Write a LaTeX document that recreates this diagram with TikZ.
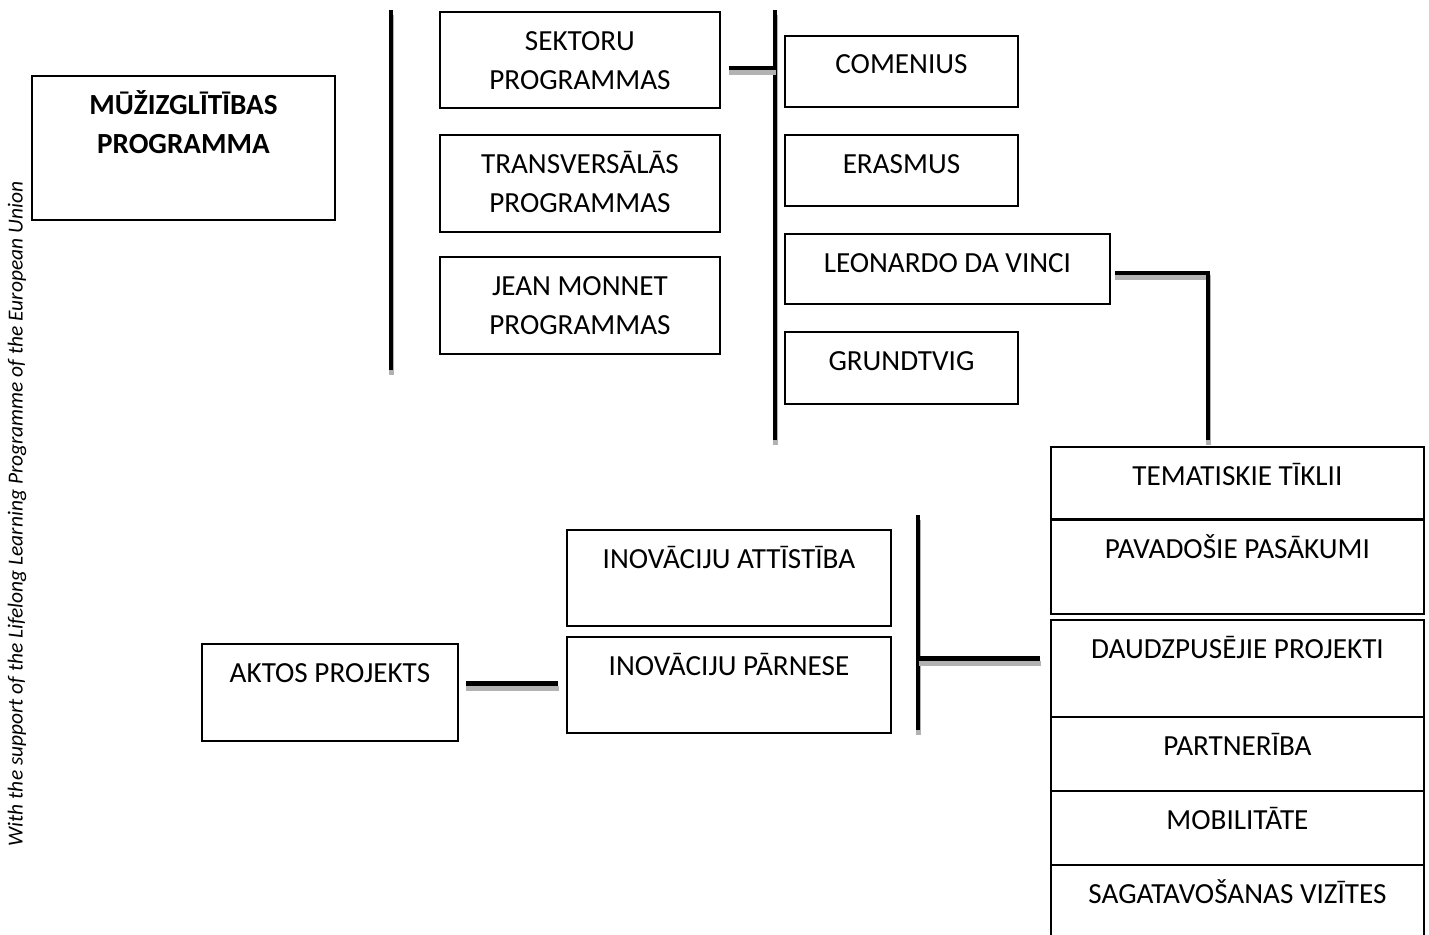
\documentclass[tikz,border=0pt]{standalone}
\usepackage{fontspec}
\setmainfont{Carlito}
\usetikzlibrary{positioning}
\begin{document}
\begin{tikzpicture}[x=0.02cm, y=-0.02cm,
    box/.style ={draw, line width=1.1pt, anchor=north west, inner sep=0pt},
    caption/.style ={anchor=base, align=center, inner sep=0pt, font=\fontsize{16.6}{22.7}\selectfont},
    bar/.style ={line width=2.8pt, preaction={draw=black!30, line width=2.8pt, transform canvas={shift={(0.3pt,-2.6pt)}}}}]
   \clip (0,0) rectangle (1429,934);
   \node[rotate=90, font=\fontsize{12.2}{14}\selectfont\itshape] (note) at (17,514) {With the support of the Lifelong Learning Programme of the European Union};
   \node[box, minimum width=6.06cm, minimum height=2.88cm] (muz) at (31,75) {};
   \node[caption, font=\fontsize{16.6}{22.7}\selectfont\bfseries] (muzT) at ([yshift=-1.58cm]muz.north) {MŪŽIZGLĪTĪBAS\\PROGRAMMA};
   \node[box, minimum width=5.6cm, minimum height=1.92cm] (sek) at (439,11) {};
   \node[box, minimum width=5.6cm, minimum height=1.94cm] (tra) at (439,134) {};
   \node[box, minimum width=5.6cm, minimum height=1.94cm] (jea) at (439,256) {};
   \node[caption] (sekT) at ([yshift=-1.58cm]sek.north) {SEKTORU\\PROGRAMMAS};
   \node[caption] (traT) at ([yshift=-1.58cm]tra.north) {TRANSVERSĀLĀS\\PROGRAMMAS};
   \node[caption] (jeaT) at ([yshift=-1.58cm]jea.north) {JEAN MONNET\\PROGRAMMAS};
   \node[box, minimum width=4.66cm, minimum height=1.42cm] (com) at (784,35) {};
   \node[box, minimum width=4.66cm, minimum height=1.42cm] (era) at (784,134) {};
   \node[box, minimum width=6.5cm, minimum height=1.4cm] (leo) at (784,233) {};
   \node[box, minimum width=4.66cm, minimum height=1.44cm] (gru) at (784,331) {};
   \node[caption] (comT) at ([yshift=-0.78cm]com.north) {COMENIUS};
   \node[caption] (eraT) at ([yshift=-0.78cm]era.north) {ERASMUS};
   \node[caption] (leoT) at ([yshift=-0.78cm]leo.north) {LEONARDO DA VINCI};
   \node[caption] (gruT) at ([yshift=-0.78cm]gru.north) {GRUNDTVIG};
   \node[box, minimum width=7.46cm, minimum height=1.44cm] (tem) at (1050,446) {};
   \node[box, minimum width=7.46cm, minimum height=1.88cm] (pav) at (1050,519) {};
   \node[box, minimum width=7.46cm, minimum height=1.94cm] (dau) at (1050,619) {};
   \node[box, minimum width=7.46cm, minimum height=1.48cm] (par) at (1050,716) {};
   \node[box, minimum width=7.46cm, minimum height=1.48cm] (mob) at (1050,790) {};
   \node[box, minimum width=7.46cm, minimum height=1.8cm] (sag) at (1050,864) {};
   \node[caption] (temT) at ([yshift=-0.78cm]tem.north) {TEMATISKIE TĪKLII};
   \node[caption] (pavT) at ([yshift=-0.78cm]pav.north) {PAVADOŠIE PASĀKUMI};
   \node[caption] (dauT) at ([yshift=-0.78cm]dau.north) {DAUDZPUSĒJIE PROJEKTI};
   \node[caption] (parT) at ([yshift=-0.78cm]par.north) {PARTNERĪBA};
   \node[caption] (mobT) at ([yshift=-0.78cm]mob.north) {MOBILITĀTE};
   \node[caption] (sagT) at ([yshift=-0.78cm]sag.north) {SAGATAVOŠANAS VIZĪTES};
   \node[box, minimum width=6.48cm, minimum height=1.92cm] (inA) at (566,529) {};
   \node[box, minimum width=6.48cm, minimum height=1.92cm] (inP) at (566,636) {};
   \node[box, minimum width=5.12cm, minimum height=1.94cm] (akt) at (201,643) {};
   \node[caption] (inAT) at ([yshift=-0.78cm]inA.north) {INOVĀCIJU ATTĪSTĪBA};
   \node[caption] (inPT) at ([yshift=-0.78cm]inP.north) {INOVĀCIJU PĀRNESE};
   \node[caption] (aktT) at ([yshift=-0.78cm]akt.north) {AKTOS PROJEKTS};
   \coordinate (b1t) at (391,10);
   \coordinate (b1b) at (391,370);
   \coordinate (b2t) at (775,10);
   \coordinate (b2b) at (775,440);
   \coordinate (b3t) at (918,515);
   \coordinate (b3b) at (918,730);
   \coordinate (lvB) at (1208,440);
   \coordinate (sekR) at ([shift={(8,8)}]sek.east);
   \coordinate (leoR) at ([shift={(4,4)}]leo.east);
   \coordinate (dauL) at ([shift={(-10,-10)}]dau.west);
   \coordinate (aktR) at ([shift={(7,-9)}]akt.east);
   \draw[bar] (b1t) -- (b1b);
   \draw[bar] (b2t) -- (b2b);
   \draw[bar] (b3t) -- (b3b);
   \draw[bar] (sekR) -- (sekR -| b2t);
   \draw[bar] (leoR) -| (lvB);
   \draw[bar] (dauL) -- (dauL -| b3t);
   \draw[bar] (aktR) -- ([xshift=-0.16cm]aktR -| inP.west);
 \end{tikzpicture}
\end{document}
